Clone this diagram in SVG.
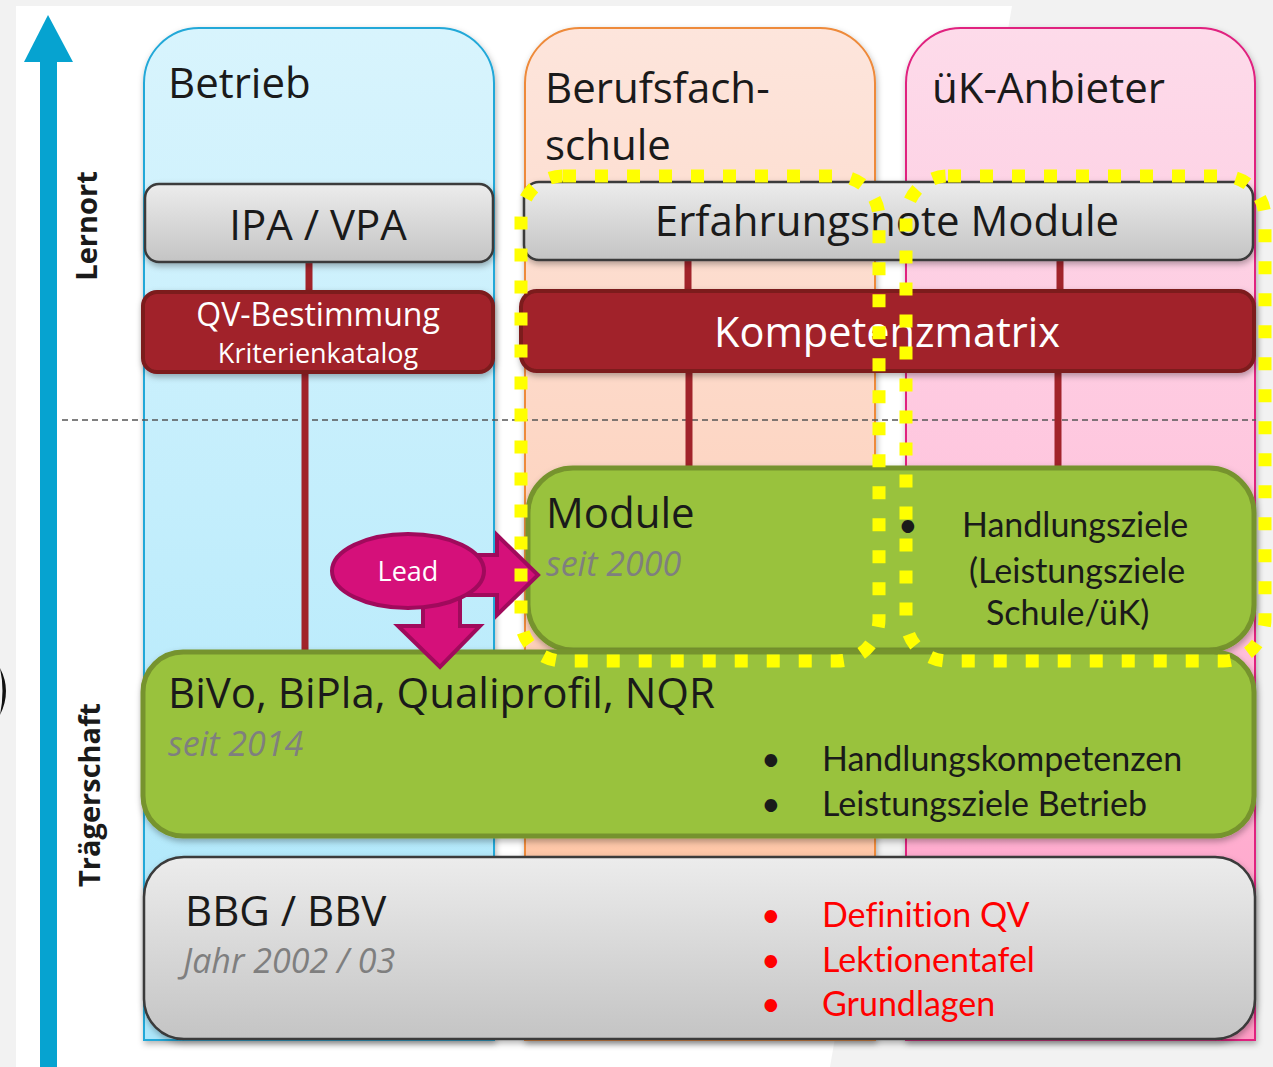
<svg xmlns="http://www.w3.org/2000/svg" width="1273" height="1067" viewBox="0 0 1273 1067">
<defs>
<linearGradient id="gBlue" x1="0" y1="0" x2="0" y2="1"><stop offset="0" stop-color="#d8f4fd"/><stop offset="1" stop-color="#ace7fb"/></linearGradient>
<linearGradient id="gOrange" x1="0" y1="0" x2="0" y2="1"><stop offset="0" stop-color="#fde5dc"/><stop offset="0.6" stop-color="#fdd0ba"/><stop offset="1" stop-color="#ffbf98"/></linearGradient>
<linearGradient id="gPink" x1="0" y1="0" x2="0" y2="1"><stop offset="0" stop-color="#fddbea"/><stop offset="0.6" stop-color="#ffbfda"/><stop offset="1" stop-color="#ff9cc5"/></linearGradient>
<linearGradient id="gGrey" x1="0" y1="0" x2="0" y2="1"><stop offset="0" stop-color="#ececec"/><stop offset="1" stop-color="#c4c4c4"/></linearGradient>
<filter id="sh" x="-10%" y="-10%" width="120%" height="130%"><feDropShadow dx="1" dy="3" stdDeviation="3" flood-color="#000" flood-opacity="0.3"/></filter>
</defs>
<style>
.hdr{font-family:"Open Sans","Liberation Sans",sans-serif;font-size:42px;fill:#1a1a1a}
.big{font-family:"Open Sans","Liberation Sans",sans-serif;font-size:42px;fill:#1a1a1a}
.wht{font-family:"Open Sans","Liberation Sans",sans-serif;fill:#ffffff}
.sub{font-family:"Open Sans","Liberation Sans",sans-serif;font-style:italic;font-size:34px;fill:#7f7f7f}
.cal{font-family:Lato,"Liberation Sans",sans-serif;font-size:34px;fill:#1a1a1a;font-variant-ligatures:none}
.red{font-family:Lato,"Liberation Sans",sans-serif;font-size:34px;fill:#ff0000;font-variant-ligatures:none}
.vert{font-family:"Open Sans","Liberation Sans",sans-serif;font-weight:bold;font-size:29px;fill:#1a1a1a}
.grey{fill:url(#gGrey);stroke:#3a3a3a;stroke-width:2.5}
.green{fill:#99c23c;stroke:#76932d;stroke-width:5}
.dred{fill:#a1232a;stroke:#7b1a1f;stroke-width:4}
.conn{stroke:#a1232a;stroke-width:7;fill:none}
.yel{fill:none;stroke:#ffff00;stroke-width:13;stroke-dasharray:13 19}
.lead{fill:#d5107a;stroke:#a00a5c;stroke-width:4}
</style>
<rect x="0" y="0" width="1273" height="1067" fill="#f2f2f2"/>
<polygon points="16,6 1012,6 830,1067 16,1067" fill="#ffffff"/>
<path d="M0,668 Q12,691 0,715 Q5,691 0,668 Z" fill="#111"/>

<g id="axis">
<rect x="40" y="58" width="17" height="1009" fill="#06a3d0"/>
<polygon points="48,15 73,62 24,62" fill="#06a3d0"/>
<text class="vert" transform="translate(97,226) rotate(-90)" text-anchor="middle">Lernort</text>
<text class="vert" transform="translate(100,795) rotate(-90)" text-anchor="middle">Trägerschaft</text>
</g>

<g id="col-betrieb">
<path d="M144,1040 V83 A55,55 0 0 1 199,28 H439 A55,55 0 0 1 494,83 V1040 Z" fill="url(#gBlue)" stroke="#22a8d8" stroke-width="2" filter="url(#sh)"/>
<text class="hdr" x="168" y="98">Betrieb</text>
</g>
<g id="col-schule">
<path d="M525,1040 V83 A55,55 0 0 1 580,28 H820 A55,55 0 0 1 875,83 V1040 Z" fill="url(#gOrange)" stroke="#ee8a3a" stroke-width="2" filter="url(#sh)"/>
<text class="hdr" x="545" y="103">Berufsfach-</text>
<text class="hdr" x="545" y="160">schule</text>
</g>
<g id="col-uk">
<path d="M906,1040 V83 A55,55 0 0 1 961,28 H1200 A55,55 0 0 1 1255,83 V1040 Z" fill="url(#gPink)" stroke="#e0207f" stroke-width="2" filter="url(#sh)"/>
<text class="hdr" x="932" y="103">üK-Anbieter</text>
</g>

<line x1="62" y1="420" x2="1256" y2="420" stroke="#555" stroke-width="1.5" stroke-dasharray="6 4"/>

<g id="connectors">
<line class="conn" x1="309" y1="262" x2="309" y2="292"/>
<line class="conn" x1="305" y1="372" x2="305" y2="652"/>
<line class="conn" x1="688" y1="260" x2="688" y2="292"/>
<line class="conn" x1="1060" y1="260" x2="1060" y2="292"/>
<line class="conn" x1="689" y1="370" x2="689" y2="468"/>
<line class="conn" x1="1058" y1="370" x2="1058" y2="468"/>
</g>

<g id="ipa">
<rect class="grey" x="145" y="184" width="348" height="78" rx="14" filter="url(#sh)"/>
<text class="big" x="318" y="240" text-anchor="middle">IPA / VPA</text>
</g>
<g id="qv">
<rect class="dred" x="143" y="292" width="350" height="80" rx="14" filter="url(#sh)"/>
<text class="wht" x="318" y="326" text-anchor="middle" font-size="32">QV-Bestimmung</text>
<text class="wht" x="318" y="363" text-anchor="middle" font-size="27">Kriterienkatalog</text>
</g>
<g id="erfahrung">
<rect class="grey" x="524" y="182" width="729" height="78" rx="15" filter="url(#sh)"/>
<text class="big" x="887" y="236" text-anchor="middle">Erfahrungsnote Module</text>
</g>
<g id="kompetenz">
<rect class="dred" x="521" y="291" width="733" height="80" rx="16" filter="url(#sh)"/>
<text class="wht" x="887" y="347" text-anchor="middle" font-size="41.5">Kompetenzmatrix</text>
</g>
<g id="module">
<rect class="green" x="528" y="468" width="726" height="182" rx="45" filter="url(#sh)"/>
<text class="big" x="546" y="528">Module</text>
<text class="sub" x="546" y="576">seit 2000</text>
<text class="cal" x="898" y="537" font-size="28">•</text>
<text class="cal" x="962" y="537">Handlungsziele</text>
<text class="cal" x="969" y="583">(Leistungsziele</text>
<text class="cal" x="986" y="625">Schule/üK)</text>
</g>
<g id="bivo">
<rect class="green" x="143" y="652" width="1111" height="184" rx="40" filter="url(#sh)"/>
<text class="big" x="168" y="708">BiVo, BiPla, Qualiprofil, NQR</text>
<text class="sub" x="168" y="756">seit 2014</text>
<text class="cal" x="761" y="771" font-size="30">•</text>
<text class="cal" x="822" y="771">Handlungskompetenzen</text>
<text class="cal" x="761" y="816" font-size="30">•</text>
<text class="cal" x="822" y="816">Leistungsziele Betrieb</text>
</g>
<g id="bbg">
<rect class="grey" x="144" y="857" width="1111" height="182" rx="40" filter="url(#sh)"/>
<text class="big" x="185" y="926">BBG / BBV</text>
<text class="sub" x="183" y="973">Jahr 2002 / 03</text>
<text class="red" x="761" y="927" font-size="30">•</text>
<text class="red" x="822" y="927">Definition QV</text>
<text class="red" x="761" y="972" font-size="30">•</text>
<text class="red" x="822" y="972">Lektionentafel</text>
<text class="red" x="761" y="1016" font-size="30">•</text>
<text class="red" x="822" y="1016">Grundlagen</text>
</g>

<g id="lead">
<path class="lead" d="M465,555 H497 V535 L538,575 L497,615 V595 H465 Z" stroke-width="3"/>
<path class="lead" d="M423,590 H460 V626 H480 L440,667 L398,626 H423 Z" stroke-width="3"/>
<ellipse class="lead" cx="408" cy="571" rx="76" ry="37"/>
<text class="wht" x="408" y="581" text-anchor="middle" font-size="27">Lead</text>
</g>

<g id="highlight">
<rect class="yel" x="521" y="176" width="358" height="485" rx="42"/>
<rect class="yel" x="906" y="176" width="359" height="485" rx="42"/>
</g>
</svg>
